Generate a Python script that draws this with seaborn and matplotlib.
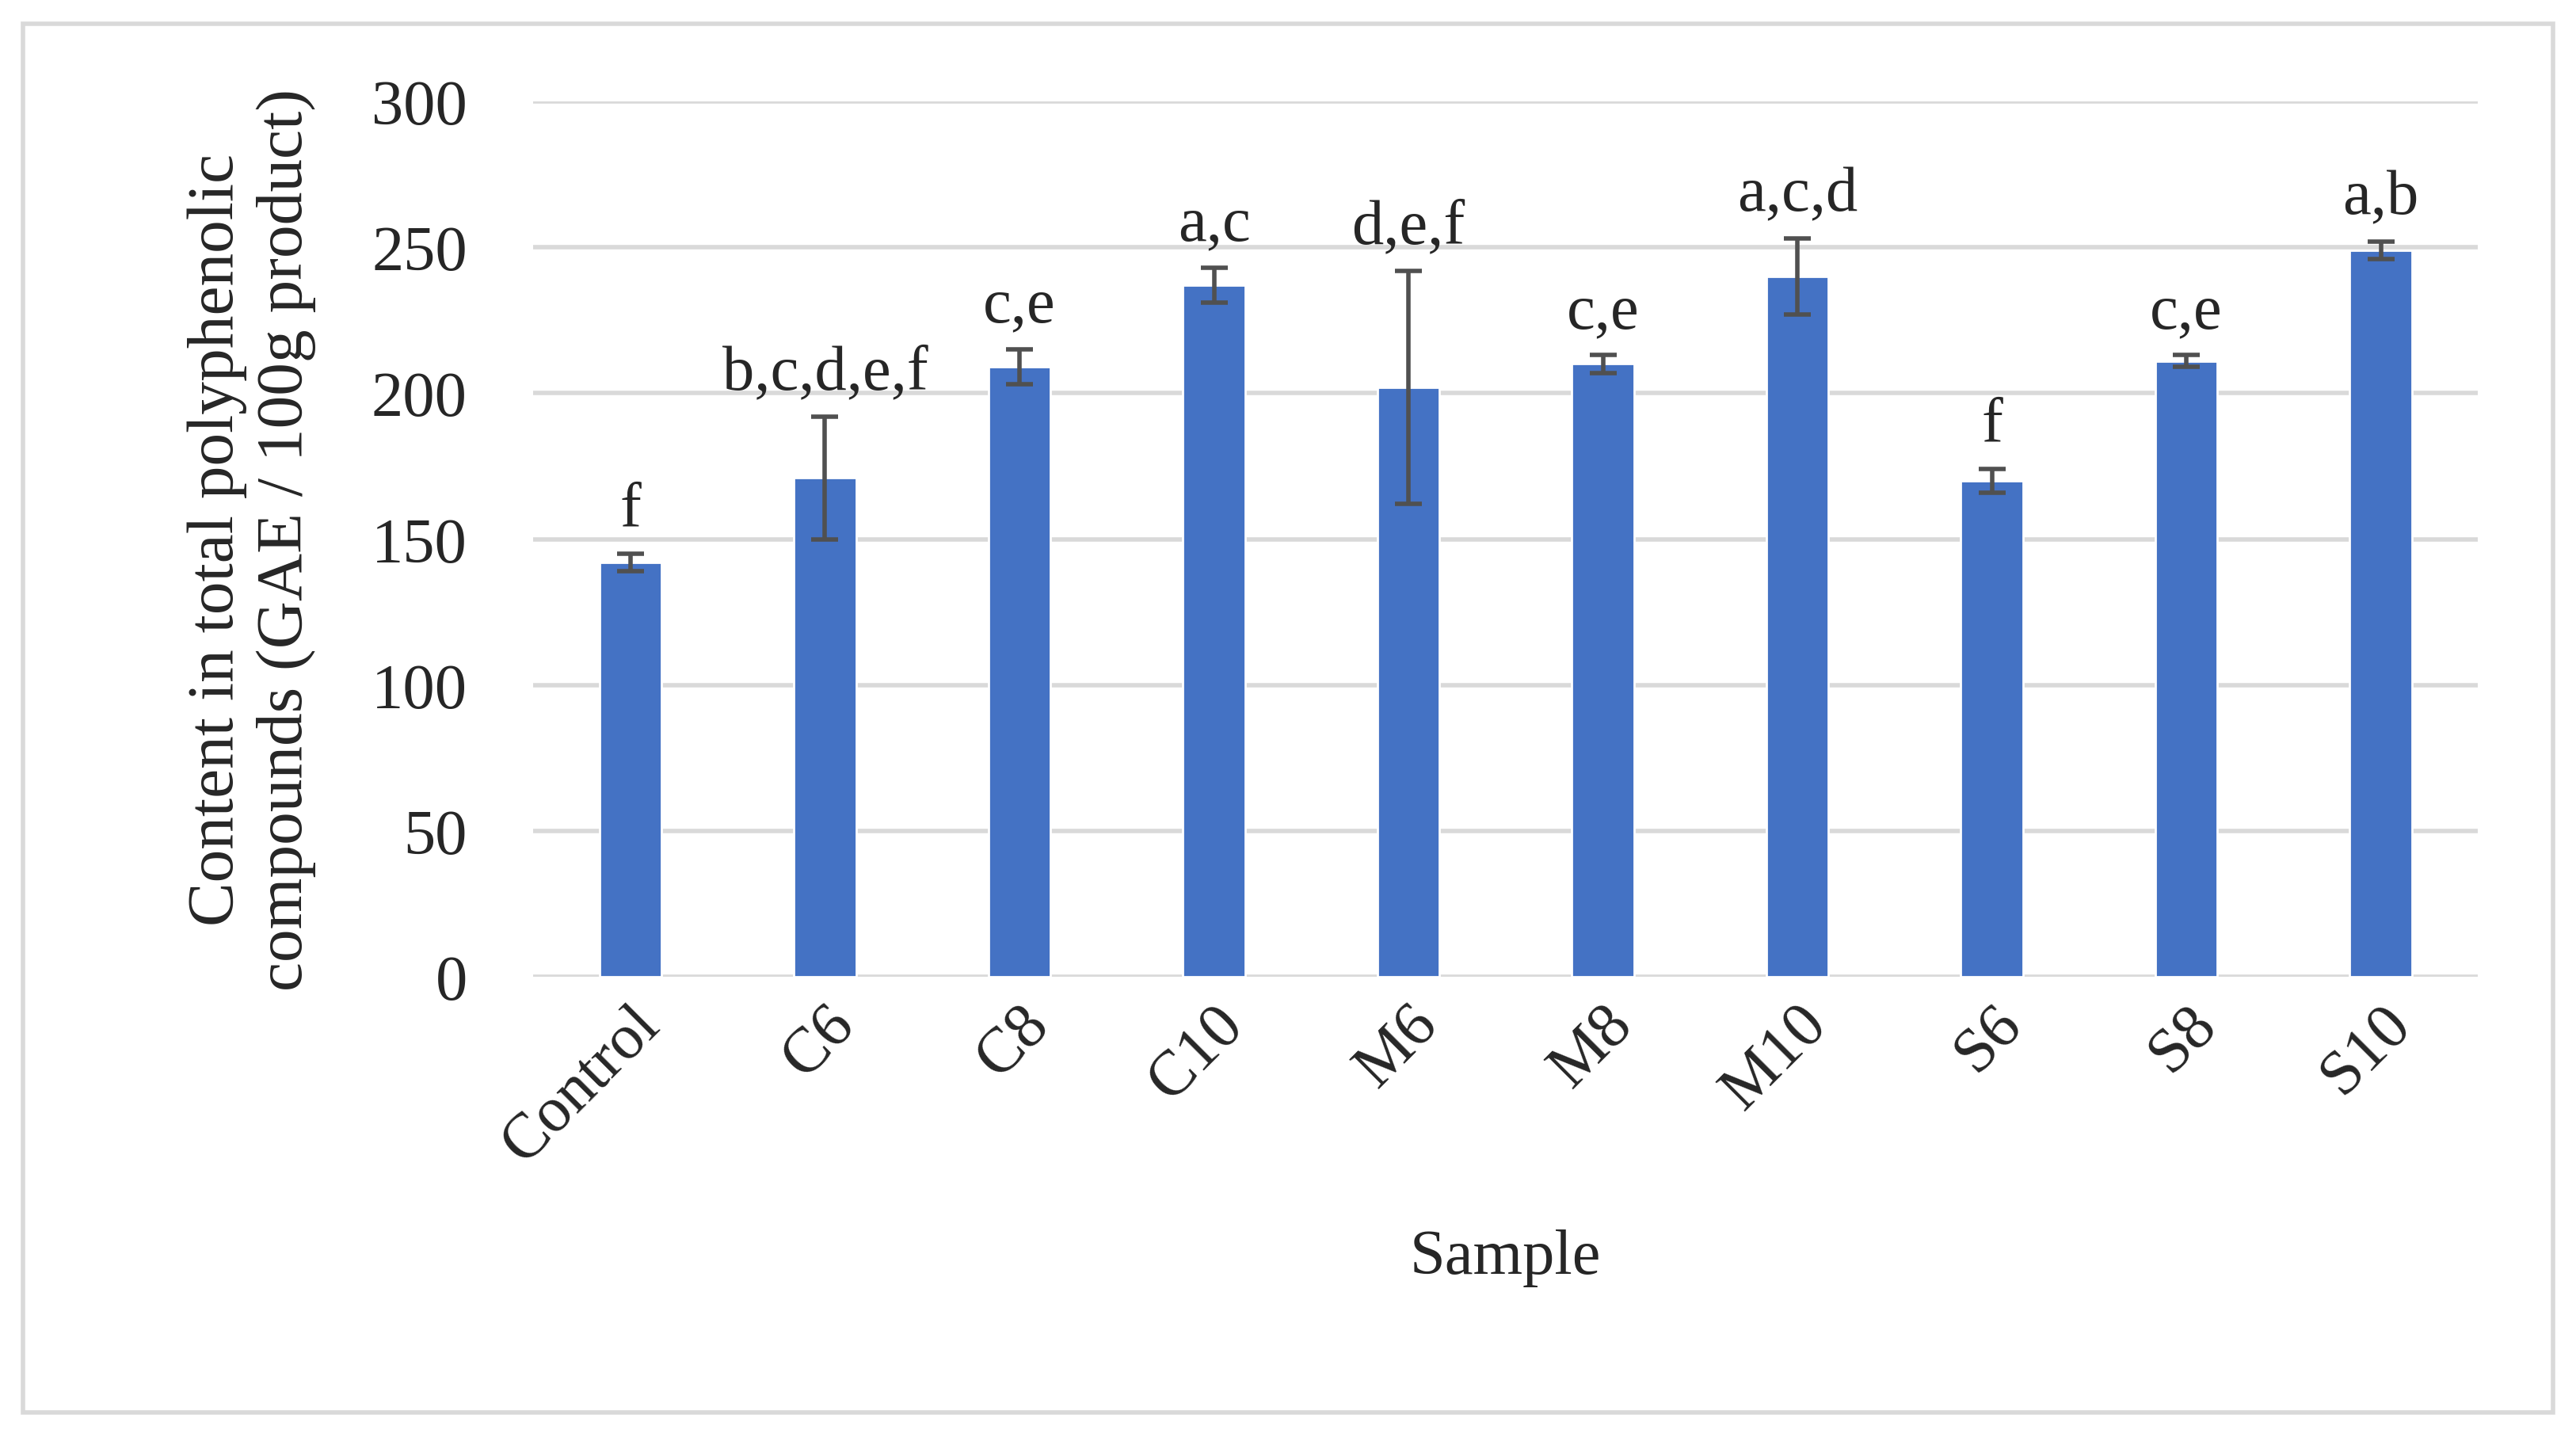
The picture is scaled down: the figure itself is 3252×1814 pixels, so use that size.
import matplotlib
matplotlib.use("Agg")
import matplotlib.pyplot as plt
import seaborn as sns
import pandas as pd

samples = ["Control", "C6", "C8", "C10", "M6", "M8", "M10", "S6", "S8", "S10"]
values = [142, 171, 209, 237, 202, 210, 240, 170, 211, 249]
errors = [3, 21, 6, 6, 40, 3, 13, 4, 2, 3]
letters = ["f", "b,c,d,e,f", "c,e", "a,c", "d,e,f", "c,e", "a,c,d", "f", "c,e", "a,b"]

df = pd.DataFrame({"Sample": samples, "Value": values})

sns.set_style("white")
plt.rcParams["font.family"] = ["Liberation Serif", "DejaVu Serif"]

fig = plt.figure(figsize=(16.26, 9.075), dpi=200)
ax = fig.add_axes([0.207, 0.32, 0.755, 0.609])
sns.barplot(data=df, x="Sample", y="Value", color="#4472C4", width=0.32,
            saturation=1, ax=ax, zorder=3)
ax.errorbar(range(len(samples)), values, yerr=errors, fmt="none",
            ecolor="#505050", elinewidth=2, capsize=6, capthick=2, zorder=4)
for i, (v, e, t) in enumerate(zip(values, errors, letters)):
    ax.text(i, v + e + 5, t, ha="center", va="bottom", fontsize=29)

ax.set_xlim(-0.5, len(samples) - 0.5)
ax.set_ylim(0, 300)
ax.set_yticks(range(0, 301, 50))
ax.grid(axis="y", color="#d9d9d9", linewidth=2, zorder=0)
for s in ax.spines.values():
    s.set_visible(False)
ax.tick_params(axis="both", length=0, labelsize=29)
ax.tick_params(axis="y", pad=30)
ax.tick_params(axis="x", pad=8)
plt.setp(ax.get_xticklabels(), rotation=45, ha="right", rotation_mode="anchor")
ax.set_xlabel("Sample", fontsize=29, labelpad=25)
ax.set_ylabel("Content in total polyphenolic\ncompounds (GAE / 100g product)", fontsize=30, labelpad=25)

fig.patches.append(plt.Rectangle((0.009, 0.017), 0.982, 0.966, transform=fig.transFigure,
                                 fill=False, edgecolor="#d9d9d9", linewidth=2))
fig.savefig("out.png", dpi=200)
